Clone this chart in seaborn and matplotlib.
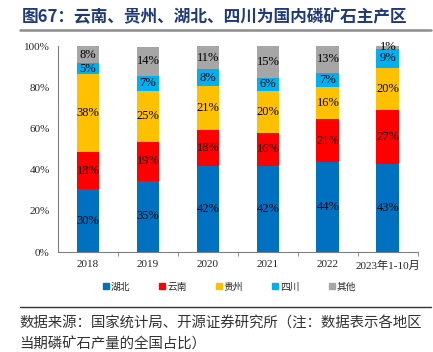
import matplotlib
matplotlib.use("Agg")
import matplotlib.pyplot as plt
import seaborn as sns
import numpy as np
from matplotlib.lines import Line2D

years = ["2018", "2019", "2020", "2021", "2022", "2023年1-10月"]
regions = ["湖北", "云南", "贵州", "四川", "其他"]
hubei = [30.4, 34.6, 41.6, 41.6, 43.6, 42.6]
yunnan = [18.3, 18.9, 17.6, 16.4, 20.9, 26.6]
guizhou = [37.9, 24.8, 21.3, 20.3, 15.8, 20.3]
sichuan = [5.0, 7.2, 8.4, 6.3, 6.8, 9.2]
qita = [8.4, 14.3, 11.1, 15.4, 12.9, 1.3]
colors = ["#0070C0", "#FF0000", "#FFC000", "#00B0F0", "#A6A6A6"]

sns.set_style("white")
plt.rcParams["font.family"] = ["Liberation Serif", "Noto Sans CJK SC", "DejaVu Sans"]

fig = plt.figure(figsize=(4.33, 3.52), dpi=100)
ax = fig.add_axes([0.134, 0.284, 0.831, 0.585])

series = [hubei, yunnan, guizhou, sichuan, qita]
bottom = np.zeros(len(years))
for name, vals, c in zip(regions, series, colors):
    vals = np.array(vals)
    sns.barplot(x=years, y=vals, bottom=bottom, color=c, width=0.38,
                saturation=1, ax=ax, edgecolor="none")
    for i, v in enumerate(vals):
        ax.text(i, bottom[i] + v / 2, f"{v:.0f}%", ha="center", va="center",
                fontsize=9, color="black")
    bottom += vals

ax.set_xlim(-0.5, 5.5)
ax.set_ylim(0, 100)
ax.set_yticks([0, 20, 40, 60, 80, 100])
ax.set_yticklabels([f"{t}%" for t in [0, 20, 40, 60, 80, 100]], fontsize=8)
ax.set_xticks(range(len(years)))
ax.set_xticklabels(years, fontsize=8)
ax.set_xticks(np.arange(0.5, 5.6, 1), minor=True)
ax.tick_params(axis="x", which="major", length=0, pad=6)
ax.tick_params(axis="x", which="minor", length=3, direction="out", color="#7f7f7f", bottom=True)
ax.tick_params(axis="y", length=0, pad=6)
ax.set_xlabel("")
ax.set_ylabel("")
for s in ["top", "right"]:
    ax.spines[s].set_visible(False)
for s in ["left", "bottom"]:
    ax.spines[s].set_color("#7f7f7f")
    ax.spines[s].set_linewidth(0.8)

handles = [Line2D([0], [0], marker="s", linestyle="none", markersize=5,
                  markerfacecolor=c, markeredgecolor=c) for c in colors]
fig.legend(handles, regions, loc="center", bbox_to_anchor=(0.53, 0.185), ncol=5,
           frameon=False, handlelength=0.6, handletextpad=0.2,
           columnspacing=3.0, prop={"family": ["Noto Sans CJK SC"], "size": 7})

fig.text(0.05, 0.952, "图67：云南、贵州、湖北、四川为国内磷矿石主产区",
         fontsize=12, fontweight="bold", color="#1F3A7A",
         family=["Noto Sans CJK SC"], va="center", ha="left")
fig.add_artist(Line2D([0.046, 0.995], [0.915, 0.915], color="#8c8c8c", linewidth=1.8))
fig.add_artist(Line2D([0.046, 0.995], [0.128, 0.128], color="#333333", linewidth=1.0))
fig.text(0.045, 0.082, "数据来源：国家统计局、开源证券研究所（注：数据表示各地区",
         fontsize=10.4, color="#333333", family=["Noto Sans CJK SC"], va="center")
fig.text(0.045, 0.02, "当期磷矿石产量的全国占比）",
         fontsize=10.4, color="#333333", family=["Noto Sans CJK SC"], va="center")

fig.savefig("out.png", dpi=100)
